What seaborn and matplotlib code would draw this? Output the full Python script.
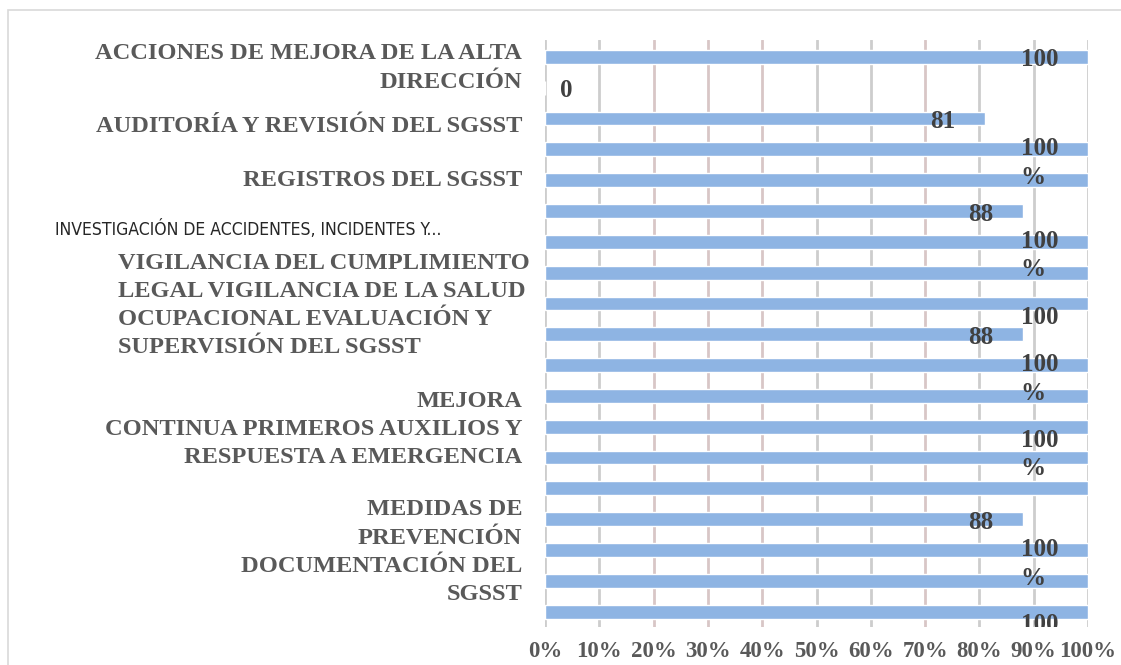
#Add libraries
import pandas as pd
import matplotlib.pyplot as plt
import seaborn as sns
from matplotlib.patches import Rectangle

#Data (one row per bar, top to bottom)
filas = [f"f{i:02d}" for i in range(19)]
valores = [100, 0, 81, 100, 100, 88, 100, 100, 100, 88, 100, 100, 100, 100, 100, 88, 100, 100, 100]
etiquetas_valor = ["100", "0", "81", "100\n%", "", "88", "100\n%", "", "100", "88",
                   "100\n%", "", "100\n%", "", "", "88", "100\n%", "", "100"]

#Category texts (they float on the left, not tied to single bars)
categorias = [
    "ACCIONES DE MEJORA DE LA ALTA\nDIRECCIÓN",
    "AUDITORÍA Y REVISIÓN DEL SGSST",
    "REGISTROS DEL SGSST",
    "INVESTIGACIÓN DE ACCIDENTES, INCIDENTES Y...",
    "VIGILANCIA DEL CUMPLIMIENTO\nLEGAL VIGILANCIA DE LA SALUD\nOCUPACIONAL EVALUACIÓN Y\nSUPERVISIÓN DEL SGSST",
    "MEJORA\nCONTINUA PRIMEROS AUXILIOS Y\nRESPUESTA A EMERGENCIA",
    "MEDIDAS DE\nPREVENCIÓN\nDOCUMENTACIÓN DEL\nSGSST",
]
ticks_x = [0, 10, 20, 30, 40, 50, 60, 70, 80, 90, 100]

df = pd.DataFrame({"fila": filas, "valor": valores})

#Style
sns.set_style("white")
serif = ["Liberation Serif", "DejaVu Serif"]
gris_texto = "#595959"
color_barra = "#8EB4E3"
tam = 17.6

fig = plt.figure(figsize=(11.21, 6.65), dpi=100)
ax = fig.add_axes([0.4862, 0.057, 0.4844, 0.883])

sns.barplot(data=df, x="valor", y="fila", orient="h", color=color_barra,
            width=0.45, saturation=1, ax=ax)

ax.set_xlim(0, 100)
ax.set_ylim(18.5, -0.55)
ax.set_xlabel("")
ax.set_ylabel("")
ax.set_yticks([])
ax.set_xticks(ticks_x)
ax.set_xticklabels([f"{t}%" for t in ticks_x], fontsize=16.5, fontweight="bold",
                   family=serif, color=gris_texto)
ax.tick_params(axis="x", length=0, pad=10)
for s in ax.spines.values():
    s.set_visible(False)

# Gridlines (some look slightly pink in the original)
ax.set_axisbelow(True)
for t in ticks_x:
    c = "#d8c6c6" if t in (20, 30, 40, 70) else "#cdcdcd"
    ax.axvline(t, color=c, lw=2, zorder=0)

# Data labels, wrapped like the original
for i, (v, txt) in enumerate(zip(valores, etiquetas_valor)):
    if not txt:
        continue
    x = v - 5.5 if v > 0 else 5
    y = i + (0.45 if "\n" in txt else 0.1)
    if i == 8:
        y = i + 0.45
    if i == 12:
        y = i + 0.9
    if i == 18:
        y = i + 0.4
    ax.text(x, y, txt, ha="right", va="center", multialignment="left",
            fontsize=18, fontweight="bold", family=serif, color="#404040",
            linespacing=1.3, clip_on=True, zorder=5)

# Category texts on the left
tr = ax.get_yaxis_transform()
x_der = -23 / 543
estilo = dict(transform=tr, va="center", fontsize=tam, fontweight="bold",
              family=serif, color=gris_texto, linespacing=1.45)
ax.text(x_der, 0.36, categorias[0], ha="right", **estilo)
ax.text(x_der, 2.27, categorias[1], ha="right", **estilo)
ax.text(x_der, 4.0, categorias[2], ha="right", **estilo)
ax.text((55 - 545) / 543, 5.6, categorias[3], transform=tr, ha="left", va="center",
        fontsize=12.6, fontstretch="condensed", family=["DejaVu Sans"], color="#262626")
ax.text((118 - 545) / 543, 8.07, categorias[4], ha="left", **estilo)
ax.text(x_der, 12.08, categorias[5], ha="right", **estilo)
ax.text(x_der, 16.07, categorias[6], ha="right", **estilo)

# Light border around the chart area
fig.patches.append(Rectangle((8 / 1121, -0.05), 1.1, 1 - 10 / 665 + 0.05,
                             transform=fig.transFigure, fill=False,
                             edgecolor="#d9d9d9", lw=1.2))

fig.savefig("out.png", dpi=100)
